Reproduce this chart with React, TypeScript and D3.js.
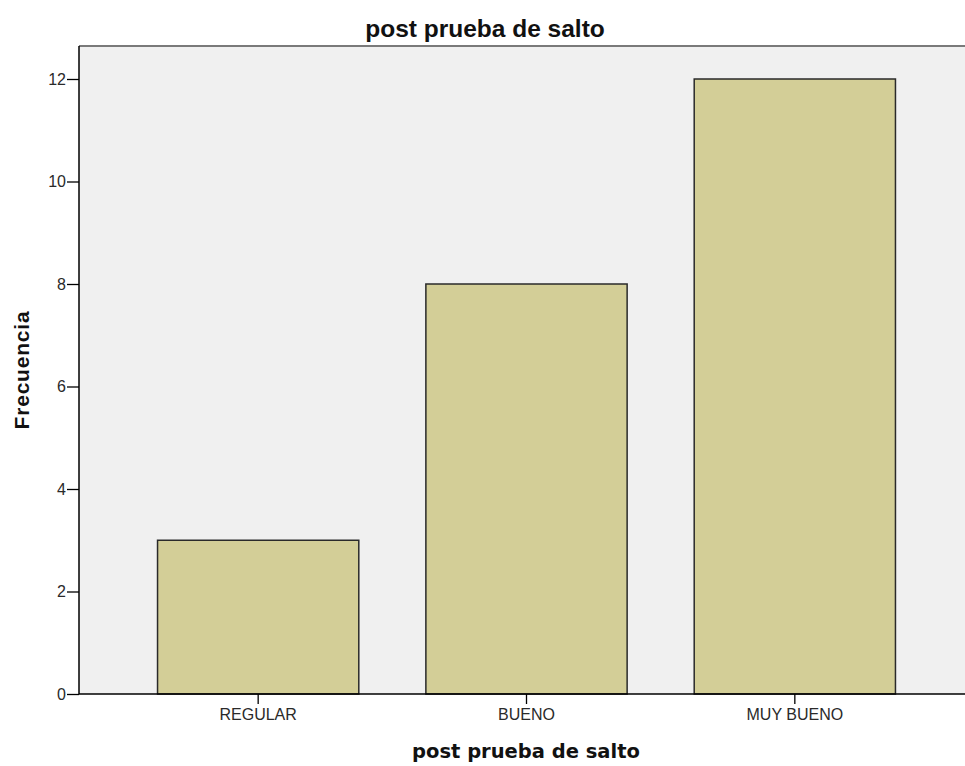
import React, { useEffect, useRef } from "react";
import * as d3 from "d3";

const categories = ["REGULAR", "BUENO", "MUY BUENO"];
const frecuencias = [3, 8, 12];
const yTicks = [0, 2, 4, 6, 8, 10, 12];

const W = 965;
const H = 766;
const plot = { left: 79, right: 965, top: 46, bottom: 694 };

const App = () => {
  const ref = useRef<SVGGElement>(null);

  useEffect(() => {
    const g = d3.select(ref.current);
    g.selectAll("*").remove();

    // centres at ~258, 527, 795
    const x = d3
      .scaleBand()
      .domain(categories)
      .range([124, 929])
      .paddingInner(0.25)
      .paddingOuter(0.125);
    // 12 -> y 79, 0 -> y 694
    const y = d3.scaleLinear().domain([0, 12]).range([plot.bottom, 79]);

    g.append("rect")
      .attr("x", plot.left)
      .attr("y", plot.top)
      .attr("width", plot.right - plot.left)
      .attr("height", plot.bottom - plot.top)
      .attr("fill", "#f0f0f0");

    g.append("line")
      .attr("x1", plot.left)
      .attr("x2", plot.right)
      .attr("y1", plot.top)
      .attr("y2", plot.top)
      .attr("stroke", "#7a7a7a")
      .attr("stroke-width", 2);

    g.selectAll("rect.bar")
      .data(frecuencias)
      .enter()
      .append("rect")
      .attr("class", "bar")
      .attr("x", (d, i) => x(categories[i])!)
      .attr("y", d => y(d))
      .attr("width", x.bandwidth())
      .attr("height", d => y(0) - y(d))
      .attr("fill", "#d3ce97")
      .attr("stroke", "#2a2a2a")
      .attr("stroke-width", 1.5);

    const yAxis = g
      .append("g")
      .attr("transform", `translate(${plot.left},0)`)
      .call(d3.axisLeft(y).tickValues(yTicks).tickSize(12).tickSizeOuter(0).tickPadding(1));
    yAxis.select(".domain").attr("stroke", "#000").attr("stroke-width", 1.5).attr("d", `M0,${plot.top}V${plot.bottom}`);

    const xAxis = g
      .append("g")
      .attr("transform", `translate(0,${plot.bottom})`)
      .call(d3.axisBottom(x).tickSize(10).tickSizeOuter(0).tickPadding(5));
    xAxis.select(".domain").attr("stroke", "#000").attr("stroke-width", 1.5).attr("d", `M${plot.left},0H${plot.right}`);

    g.selectAll(".tick text")
      .attr("font-family", "Liberation Sans, Arial, sans-serif")
      .attr("font-size", 16)
      .attr("fill", "#2a2a2a");
    g.selectAll(".tick line").attr("stroke", "#000").attr("stroke-width", 1.3);

    g.append("text")
      .attr("x", 485)
      .attr("y", 37)
      .attr("text-anchor", "middle")
      .attr("font-family", "Liberation Sans, Arial, sans-serif")
      .attr("font-weight", "bold")
      .attr("font-size", 24.5)
      .attr("fill", "#111")
      .text("post prueba de salto");

    g.append("text")
      .attr("x", 526)
      .attr("y", 758)
      .attr("text-anchor", "middle")
      .attr("font-family", "DejaVu Sans, sans-serif")
      .attr("font-weight", "bold")
      .attr("font-size", 19.5)
      .attr("fill", "#111")
      .text("post prueba de salto");

    g.append("text")
      .attr("transform", "translate(29,370) rotate(-90)")
      .attr("text-anchor", "middle")
      .attr("font-family", "Liberation Sans, Arial, sans-serif")
      .attr("font-weight", "bold")
      .attr("font-size", 21)
      .attr("letter-spacing", 0.8)
      .attr("fill", "#111")
      .text("Frecuencia");
  }, []);

  return (
    <svg width={W} height={H} style={{ position: "absolute", left: 0, top: 0 }}>
      <rect width={W} height={H} fill="#fff" />
      <g ref={ref} />
    </svg>
  );
};

export default App;
